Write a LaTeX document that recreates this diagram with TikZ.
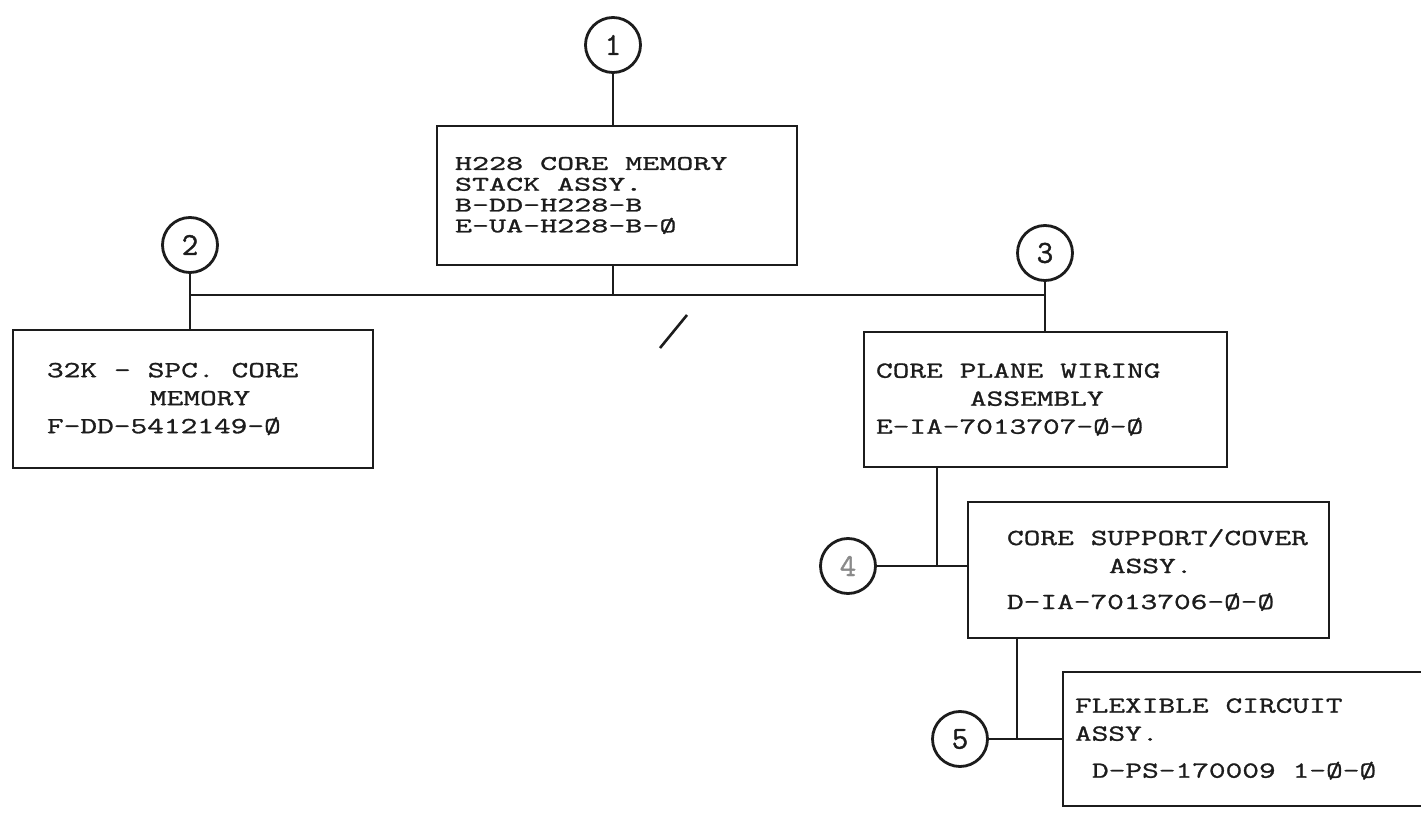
\documentclass[tikz,border=0pt]{standalone}
\usepackage{fontspec}
\usepackage{xcolor}
\usepackage{tikz}
\newfontfamily\typer{Latin Modern Mono}[FakeStretch=1.41, FakeBold=1.2]
\newfontfamily\typersquat{Latin Modern Mono}[FakeStretch=1.56, FakeBold=1.2]
\newfontfamily\typerdigit{Latin Modern Mono}[FakeBold=1.2]
\definecolor{stackInk}{HTML}{1C1C1C}
\definecolor{stackFaint}{HTML}{8A8A8A}
\tikzset{
  link/.style={line width=1.4pt, draw=stackInk},
  part box/.style={draw=stackInk, line width=1.4pt, align=left,
    inner ysep=0pt, inner xsep=6pt, text=stackInk,
    font=\typer\fontsize{11.5}{14}\selectfont,
    execute at begin node={\spaceskip=8.5pt\relax}},
  tight part box/.style={part box,
    font=\typersquat\fontsize{10.4}{10.4}\selectfont},
  item circle/.style={circle, draw=stackInk, line width=1.4pt,
    minimum size=27.5pt, inner sep=0pt, text=stackInk,
    font=\typerdigit\fontsize{16}{16}\selectfont}
}

\begin{document}
\begin{tikzpicture}[x=0.5pt, y=-0.5pt]
  \useasboundingbox (0,0) rectangle (1421,813);
  \clip (0,0) rectangle (1421,813);
  % assembly boxes
  \node[tight part box, minimum height=69.5pt, text width=168pt]
    (stack) at (617,195.5)
    {\hspace*{3pt}H228 CORE MEMORY\\\hspace*{3pt}STACK ASSY.\\
     \hspace*{3pt}B-DD-H228-B\\\hspace*{3pt}E-UA-H228-B-Ø};
  \node[part box, minimum height=69pt, text width=168pt]
    (core) at (193,399)
    {\hspace*{11pt}32K - SPC. CORE\\\hspace*{62.5pt}MEMORY\\
     \hspace*{11pt}F-DD-5412149-Ø};
  \node[part box, minimum height=67.5pt, text width=169.5pt]
    (wiring) at (1045.5,399.5)
    {CORE PLANE WIRING\\\hspace*{47pt}ASSEMBLY\\E-IA-7013707-Ø-Ø};
  \node[part box, minimum height=68pt, text width=168.5pt]
    (cover) at (1148.5,570)
    {\hspace*{13.5pt}CORE SUPPORT/COVER\\\hspace*{64.5pt}ASSY.\\[4pt]
     \hspace*{13.5pt}D-IA-7013706-Ø-Ø};
  \node[part box, minimum height=67pt, text width=178pt]
    (flex) at (1253,739)
    {FLEXIBLE CIRCUIT\\ASSY.\\[4.5pt]\hspace*{8.5pt}D-PS-170009 1-Ø-Ø};
  % item numbers
  \node[item circle] (n1) at (613,45) {1};
  \node[item circle] (n2) at (190,245) {2};
  \node[item circle] (n3) at (1045,253) {3};
  \node[item circle, text=stackFaint] (n4) at (848,566) {4};
  \node[item circle] (n5) at (960,739) {5};
  \coordinate (bus) at (613,295);
  \coordinate (tap4) at (937,566);
  \coordinate (tap5) at (1017,739);
  % tree lines
  \draw[link] (n1) -- (n1 |- stack.north);
  \draw[link] (n1 |- stack.south) -- (bus);
  \draw[link] (n2 |- bus) -- (n3 |- bus);
  \draw[link] (n2) -- (n2 |- core.north);
  \draw[link] (n3) -- (n3 |- wiring.north);
  \draw[link] (tap4 |- wiring.south) -- (tap4);
  \draw[link] (n4) -- (n4 -| cover.west);
  \draw[link] (tap5 |- cover.south) -- (tap5);
  \draw[link] (n5) -- (n5 -| flex.west);
  \draw[line width=1.3pt, stackInk] (660,348) -- (687,315);
\end{tikzpicture}
\end{document}
